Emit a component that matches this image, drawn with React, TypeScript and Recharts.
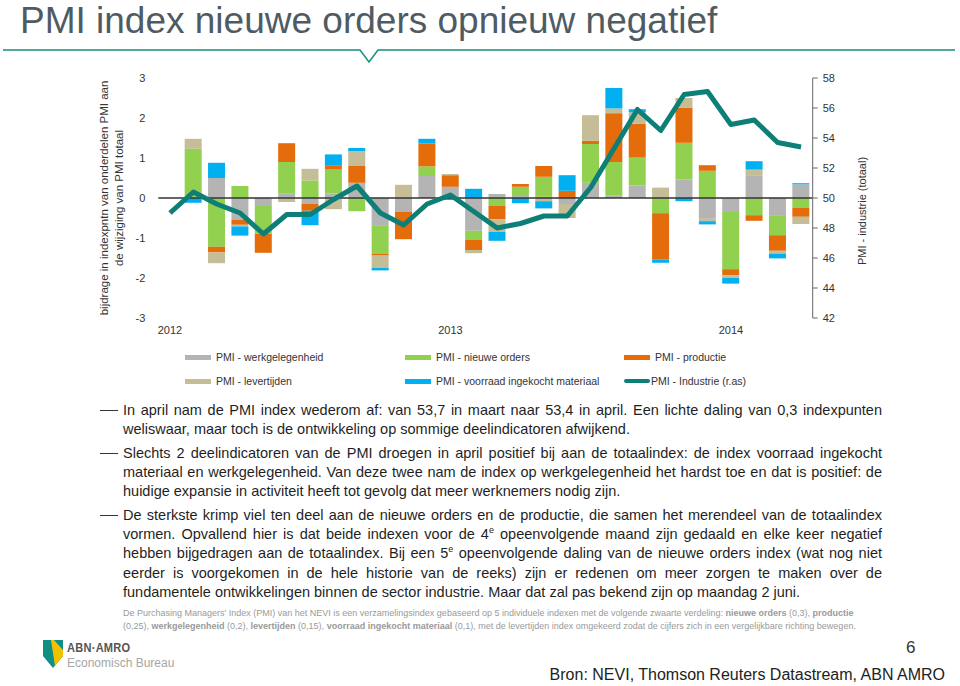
import React from "react"
import {
  ComposedChart,
  Bar,
  Line,
  XAxis,
  YAxis,
  ReferenceLine,
} from "recharts"

// maanden jan 2012 t/m apr 2014
const months = [
  "jan-12", "feb-12", "mrt-12", "apr-12", "mei-12", "jun-12", "jul-12", "aug-12", "sep-12", "okt-12", "nov-12", "dec-12",
  "jan-13", "feb-13", "mrt-13", "apr-13", "mei-13", "jun-13", "jul-13", "aug-13", "sep-13", "okt-13", "nov-13", "dec-13",
  "jan-14", "feb-14", "mrt-14", "apr-14",
]

// bijdragen in indexpunten
const werkgelegenheid = [
  null, 0, 0.5, -0.54, -0.2, 0.12, -0.15, 0.11, 0.38, -0.68, -0.35, 0.55,
  0.28, -0.82, 0.1, 0.05, 0.03, -0.15, 0.38, 0.07, 0.31, 0, 0.46, -0.52,
  -0.35, 0.57, -0.43, 0.34,
]
const nieuweOrders = [
  null, 1.23, -1.22, 0.3, -0.7, 0.78, 0.44, 0.6, -0.33, -0.72, 0, 0.24,
  0, -0.23, -0.2, 0.23, 0.5, 0, 0.97, 0.83, 0.7, -0.38, 0.92, 0.68,
  -1.43, -0.43, -0.5, -0.24,
]
const productie = [
  null, 0, -0.14, -0.13, -0.47, 0.47, -0.17, 0.11, 0.42, -0.04, -0.68, 0.57,
  0.29, -0.25, -0.33, 0.07, 0.27, 0.18, 0.08, 1.22, 0.85, -1.16, 0.88, 0.14,
  -0.15, -0.14, -0.39, -0.23,
]
const levertijden = [
  null, 0.25, -0.27, -0.04, 0, -0.1, 0.29, -0.28, 0.37, -0.31, 0.33, 0,
  0.03, -0.08, -0.32, 0, -0.08, -0.35, 0.64, 0.12, 0.28, 0.26, 0.24, -0.06,
  -0.07, 0.14, -0.07, -0.18,
]
const voorraad = [
  null, -0.12, 0.38, -0.23, 0, 0, -0.36, 0.27, 0.08, -0.06, 0, 0.12,
  -0.05, 0.23, -0.22, -0.13, -0.18, 0.39, 0, 0.51, 0.08, -0.08, -0.08, -0.08,
  -0.14, 0.21, -0.12, 0.03,
]
// PMI industrie totaal (rechter as)
const pmiIndustrie = [
  49.0, 50.4, 49.6, 49.0, 47.6, 48.9, 48.9, 49.9, 50.8, 49.0, 48.2, 49.6,
  50.2, 49.1, 48.0, 48.3, 48.8, 48.8, 50.7, 53.3, 55.9, 54.5, 56.9, 57.1,
  54.9, 55.2, 53.7, 53.4,
]

const leftTicks = [-3, -2, -1, 0, 1, 2, 3]
const rightTicks = [42, 44, 46, 48, 50, 52, 54, 56, 58]

const data = months.map((m, i) => ({
  month: m,
  werk: werkgelegenheid[i],
  orders: nieuweOrders[i],
  prod: productie[i],
  lever: levertijden[i],
  voorraad: voorraad[i],
  pmi: pmiIndustrie[i],
}))

const C = {
  werk: "#b4b4b4",
  orders: "#92d050",
  prod: "#e46c0a",
  lever: "#c4bd97",
  voorraad: "#00b0f0",
  line: "#0d7f77",
}

const font = "'Liberation Sans', Arial, sans-serif"
const axisTick = { fontSize: 11, fill: "#333", fontFamily: font }

const legendItems = [
  { label: "PMI - werkgelegenheid", color: C.werk, x: 185, y: 357 },
  { label: "PMI - nieuwe orders", color: C.orders, x: 405, y: 357 },
  { label: "PMI - productie", color: C.prod, x: 624, y: 357 },
  { label: "PMI - levertijden", color: C.lever, x: 185, y: 381 },
  { label: "PMI - voorraad ingekocht materiaal", color: C.voorraad, x: 405, y: 381 },
  { label: "PMI - Industrie (r.as)", color: C.line, x: 624, y: 381, line: true },
]

const para: React.CSSProperties = {
  position: "relative",
  margin: "0 0 4.5px 0",
  textAlign: "justify",
}

const sup: React.CSSProperties = { fontSize: 9, lineHeight: 0, position: "relative", top: -6 }

function Dash() {
  return (
    <div style={{ position: "absolute", left: -23, top: 9, width: 18, height: 1, background: "#333" }} />
  )
}

export default function App() {
  return (
    <div
      style={{
        position: "absolute",
        left: 0,
        top: 0,
        width: 960,
        height: 686,
        overflow: "hidden",
        background: "#fff",
        fontFamily: font,
      }}
    >
      <div
        style={{
          position: "absolute",
          left: 20,
          top: 1,
          fontSize: 37,
          lineHeight: "40px",
          color: "#4f5b63",
          whiteSpace: "nowrap",
        }}
      >
        PMI index nieuwe orders opnieuw negatief
      </div>
      <svg width={960} height={70} style={{ position: "absolute", left: 0, top: 0 }}>
        <polyline
          points="3,50 360,50 369,62 378,50 955,50"
          fill="none"
          stroke="#13907f"
          strokeWidth={1.5}
        />
      </svg>

      <div style={{ position: "absolute", left: 0, top: 0 }}>
        <ComposedChart
          width={960}
          height={360}
          data={data}
          stackOffset="sign"
          margin={{ top: 78, right: 107.3, bottom: 12, left: 100 }}
        >
          <XAxis
            dataKey="month"
            interval={0}
            axisLine={false}
            tickLine={false}
            height={30}
            tick={axisTick}
            tickFormatter={(v: string) => (v.startsWith("jan") ? "20" + v.slice(4) : "")}
          />
          <YAxis
            yAxisId="left"
            domain={[-3, 3]}
            ticks={leftTicks}
            width={58.3}
            axisLine={false}
            tickLine={false}
            tickMargin={7}
            tick={axisTick}
          />
          <YAxis
            yAxisId="right"
            orientation="right"
            domain={[42, 58]}
            ticks={rightTicks}
            width={40}
            axisLine={{ stroke: "#666" }}
            tickLine={{ stroke: "#666" }}
            tickSize={5}
            tickMargin={5}
            tick={axisTick}
          />
          <Bar yAxisId="left" dataKey="werk" stackId="a" fill={C.werk} barSize={17} isAnimationActive={false} />
          <Bar yAxisId="left" dataKey="orders" stackId="a" fill={C.orders} barSize={17} isAnimationActive={false} />
          <Bar yAxisId="left" dataKey="prod" stackId="a" fill={C.prod} barSize={17} isAnimationActive={false} />
          <Bar yAxisId="left" dataKey="lever" stackId="a" fill={C.lever} barSize={17} isAnimationActive={false} />
          <Bar yAxisId="left" dataKey="voorraad" stackId="a" fill={C.voorraad} barSize={17} isAnimationActive={false} />
          <ReferenceLine yAxisId="left" y={0} stroke="#333" strokeWidth={1.5} />
          <Line
            yAxisId="right"
            dataKey="pmi"
            type="linear"
            stroke={C.line}
            strokeWidth={5}
            strokeLinejoin="round"
            dot={false}
            isAnimationActive={false}
          />
        </ComposedChart>
      </div>

      <div style={{ position: "absolute", left: 112, top: 198, width: 0, height: 0 }}>
        <div
          style={{
            position: "absolute",
            transform: "translate(-50%, -50%) rotate(-90deg)",
            whiteSpace: "nowrap",
            fontSize: 11.5,
            lineHeight: "15px",
            color: "#333",
            textAlign: "center",
          }}
        >
          bijdrage in indexpntn van onderdelen PMI aan
          <br />
          de wijziging van PMI totaal
        </div>
      </div>
      <div style={{ position: "absolute", left: 862, top: 211, width: 0, height: 0 }}>
        <div
          style={{
            position: "absolute",
            transform: "translate(-50%, -50%) rotate(-90deg)",
            whiteSpace: "nowrap",
            fontSize: 11,
            color: "#333",
          }}
        >
          PMI - industrie (totaal)
        </div>
      </div>

      {legendItems.map((it) => (
        <div
          key={it.label}
          style={{ position: "absolute", left: it.x, top: it.y - 7, height: 14, display: "flex", alignItems: "center" }}
        >
          <div
            style={{
              width: 26,
              height: it.line ? 4 : 5,
              borderRadius: it.line ? 2 : 0,
              background: it.color,
              marginRight: it.line ? 1 : 5,
            }}
          />
          <span style={{ fontSize: 10.5, color: "#333", whiteSpace: "nowrap" }}>{it.label}</span>
        </div>
      ))}

      <div
        style={{
          position: "absolute",
          left: 123,
          top: 401,
          width: 759,
          fontSize: 14.5,
          lineHeight: "19.2px",
          color: "#1f1f1f",
        }}
      >
        <div style={para}>
          <Dash />
          In april nam de PMI index wederom af: van 53,7 in maart naar 53,4 in april. Een lichte daling van 0,3 indexpunten
          weliswaar, maar toch is de ontwikkeling op sommige deelindicatoren afwijkend.
        </div>
        <div style={para}>
          <Dash />
          Slechts 2 deelindicatoren van de PMI droegen in april positief bij aan de totaalindex: de index voorraad ingekocht
          materiaal en werkgelegenheid. Van deze twee nam de index op werkgelegenheid het hardst toe en dat is positief: de
          huidige expansie in activiteit heeft tot gevolg dat meer werknemers nodig zijn.
        </div>
        <div style={para}>
          <Dash />
          De sterkste krimp viel ten deel aan de nieuwe orders en de productie, die samen het merendeel van de totaalindex
          vormen. Opvallend hier is dat beide indexen voor de 4<span style={sup}>e</span> opeenvolgende maand zijn gedaald en
          elke keer negatief hebben bijgedragen aan de totaalindex. Bij een 5<span style={sup}>e</span> opeenvolgende daling
          van de nieuwe orders index (wat nog niet eerder is voorgekomen in de hele historie van de reeks) zijn er redenen om
          meer zorgen te maken over de fundamentele ontwikkelingen binnen de sector industrie. Maar dat zal pas bekend zijn
          op maandag 2 juni.
        </div>
      </div>

      <div
        style={{
          position: "absolute",
          left: 123,
          top: 607,
          width: 752,
          fontSize: 9,
          lineHeight: "13px",
          color: "#9a9a9a",
        }}
      >
        De Purchasing Managers' Index (PMI) van het NEVI is een verzamelingsindex gebaseerd op 5 individuele indexen met de
        volgende zwaarte verdeling: <b>nieuwe orders</b> (0,3), <b>productie</b> (0,25), <b>werkgelegenheid</b> (0,2),{" "}
        <b>levertijden</b> (0,15), <b>voorraad ingekocht materiaal</b> (0,1), met de levertijden index omgekeerd zodat de
        cijfers zich in een vergelijkbare richting bewegen.
      </div>

      <svg width={24} height={32} style={{ position: "absolute", left: 42, top: 638 }}>
        <polygon points="1,2 21,2 21,18 11,30 1,18" fill="#0f8f86" />
        <polygon points="9,2 21,2 21,18 13,28" fill="#f2c200" />
        <polygon points="12,2 21,2 21,12" fill="#0f8f86" />
      </svg>
      <div
        style={{
          position: "absolute",
          left: 67,
          top: 640,
          fontSize: 13,
          fontWeight: "bold",
          color: "#555",
          letterSpacing: 0.3,
          transform: "scaleX(0.85)",
          transformOrigin: "left",
        }}
      >
        ABN·AMRO
      </div>
      <div style={{ position: "absolute", left: 67, top: 656, fontSize: 12, color: "#a6a6a6" }}>Economisch Bureau</div>

      <div style={{ position: "absolute", left: 906, top: 638, fontSize: 17, color: "#333" }}>6</div>
      <div
        style={{
          position: "absolute",
          right: 15,
          top: 666,
          fontSize: 16,
          color: "#222",
          whiteSpace: "nowrap",
        }}
      >
        Bron: NEVI, Thomson Reuters Datastream, ABN AMRO
      </div>
    </div>
  )
}
